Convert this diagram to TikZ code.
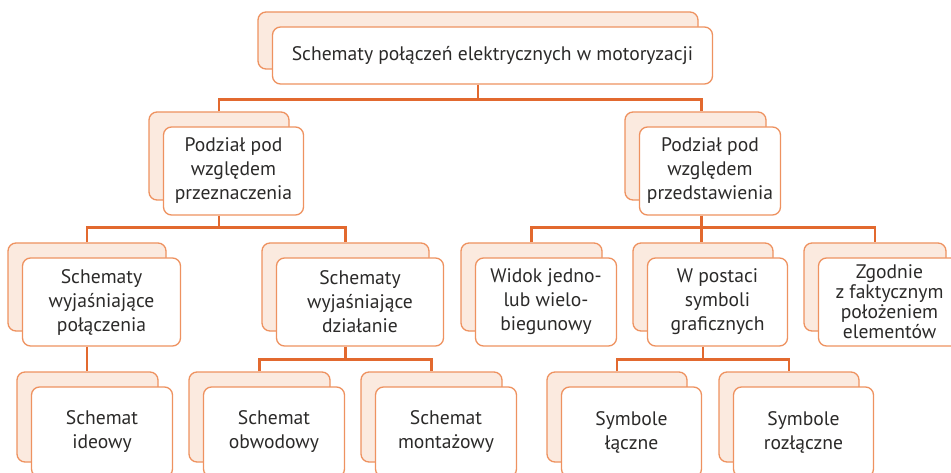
\documentclass[tikz,border=0pt]{standalone}
\usepackage{fontspec}
\setmainfont{PT Sans}
\usetikzlibrary{calc}
\definecolor{conncol}{HTML}{E2692F}
\definecolor{boxcol}{HTML}{EE9260}
\definecolor{backfill}{HTML}{FBEADF}
\definecolor{txtcol}{HTML}{2B2A29}
\newcommand\dualbox[7][]{%
  \node[backbox, minimum width=#5pt, minimum height=#6pt] (#2-b) at (#3,#4) {};
  \node[frontbox, minimum width=#5pt, minimum height=#6pt, #1] (#2-f) at ($(#2-b.center)+(14.5,15)$) {#7};}
\begin{document}
\begin{tikzpicture}[x=1pt,y=-1pt,
  backbox/.style={draw=boxcol, fill=backfill, line width=1.3pt, rounded corners=8pt, inner sep=0pt},
  frontbox/.style={draw=boxcol, fill=white, line width=1.3pt, rounded corners=8pt, inner sep=0pt,
    align=center, text=txtcol, font=\fontsize{19.6}{24}\selectfont},
  conn/.style={draw=conncol, line width=2.6pt}]
\useasboundingbox (0,0) rectangle (951,473);
\clip (0,0) rectangle (951,473);
% boxes
\dualbox{top}{478}{40.5}{440}{57}{Schematy połączeń elektrycznych w motoryzacji}
\dualbox{l2a}{219}{156}{140}{88}{Podział pod\\względem\\przeznaczenia}
\dualbox{l2b}{695.5}{156}{141}{88}{Podział pod\\względem\\przedstawienia}
\dualbox{l3a}{87}{287}{158}{88}{Schematy\\wyjaśniające\\połączenia}
\dualbox{l3b}{345.5}{287}{167}{88}{Schematy\\wyjaśniające\\działanie}
\dualbox{l3c}{531.5}{287}{141}{88}{Widok jedno-\\lub wielo-\\biegunowy}
\dualbox{l3d}{703}{287}{140}{88}{W postaci\\symboli\\graficznych}
\dualbox[font=\fontsize{19.6}{20}\selectfont]{l3e}{875}{287}{142}{88}{Zgodnie\\z faktycznym\\położeniem\\elementów}
\dualbox{l4a}{87.5}{417}{141}{90}{Schemat\\ideowy}
\dualbox{l4b}{259.5}{417}{141}{90}{Schemat\\obwodowy}
\dualbox{l4c}{431.5}{417}{141}{90}{Schemat\\montażowy}
\dualbox{l4d}{617}{417}{140}{90}{Symbole\\łączne}
\dualbox{l4e}{789}{417}{140}{90}{Symbole\\rozłączne}
% connectors
\coordinate (j1) at ($(top-b.center |- top-f.south)+(0,15)$);
\draw[conn] (top-b.center |- top-f.south) -- (j1);
\draw[conn] (l2a-b.north) |- (j1) -| ($(l2b-b.north)+(6,0)$);
\coordinate (j2) at ($(l2a-b.center |- l2a-f.south)+(0,12)$);
\draw[conn] (l2a-b.center |- l2a-f.south) -- (j2);
\draw[conn] (l3a-b.north) |- (j2) -| (l3b-b.north);
\coordinate (j3) at ($(l2b-b.center |- l2b-f.south)+(6,12)$);
\draw[conn] ($(l2b-b.center |- l2b-f.south)+(6,0)$) -- (j3);
\draw[conn] (l3c-b.north) |- (j3) -| (l3e-b.north);
\draw[conn] (j3) -- (j3 |- l3d-b.north);
\draw[conn] (l3a-b.center |- l3a-f.south) -- (l3a-b.center |- l4a-b.north);
\coordinate (j4) at ($(l3b-b.center |- l3b-f.south)+(0,13)$);
\draw[conn] (l3b-b.center |- l3b-f.south) -- (j4);
\draw[conn] (l4b-b.north) |- (j4) -| (l4c-b.north);
\coordinate (j5) at ($(l3d-b.center |- l3d-f.south)+(0,13)$);
\draw[conn] (l3d-b.center |- l3d-f.south) -- (j5);
\draw[conn] (l4d-b.north) |- (j5) -| (l4e-b.north);
\end{tikzpicture}
\end{document}
